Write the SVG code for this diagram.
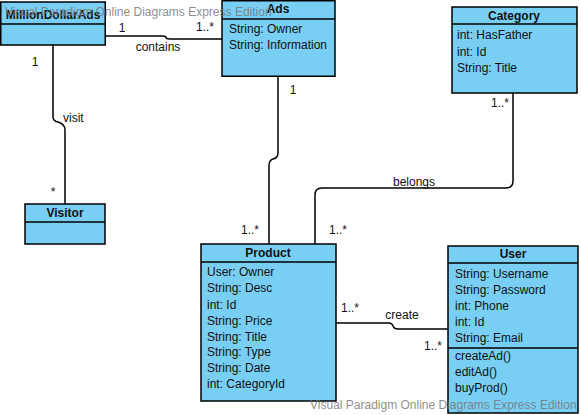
<svg xmlns="http://www.w3.org/2000/svg" width="581" height="415" viewBox="0 0 581 415">
<style>
.box{fill:#79CEF4;stroke:#000;stroke-width:1.5}
.div{stroke:#000;stroke-width:1.5}
.t{font-family:"Liberation Sans",Arial,sans-serif;font-size:12px;fill:#111}
.b{font-weight:bold;text-anchor:middle}
.m{text-anchor:middle}
.c{fill:none;stroke:#000;stroke-width:1.5}
.w{font-family:"Liberation Sans",Arial,sans-serif;font-size:12px;fill:#777;fill-opacity:0.85}
</style>
<rect width="581" height="415" fill="#fff"/>
<g id="connectors">
<path class="c" d="M105,36 H162 Q166,36 166,37.5 Q166,39 170,39 H222"/>
<path class="c" d="M53,45 V117 Q53,121 58,122 Q65,124 65,130 V204"/>
<path class="c" d="M278,76 V153 Q278,158 273,159 Q269,160 269,166 V244"/>
<path class="c" d="M513,93 V181 Q513,188 506,188 H322 Q315,188 315,195 V244"/>
<path class="c" d="M336,323 H389 Q392,323 393,326 Q394,329 398,329 H448"/>
<text class="t m" x="122" y="32">1</text>
<text class="t m" x="205" y="31">1..*</text>
<text class="t m" x="158" y="51">contains</text>
<text class="t m" x="35" y="66">1</text>
<text class="t" x="63" y="122">visit</text>
<text class="t m" x="53" y="196">*</text>
<text class="t m" x="293" y="94">1</text>
<text class="t m" x="250" y="234">1..*</text>
<text class="t m" x="500" y="107">1..*</text>
<text class="t m" x="414" y="186">belongs</text>
<text class="t m" x="338" y="234">1..*</text>
<text class="t m" x="402" y="319">create</text>
<text class="t m" x="350" y="312">1..*</text>
<text class="t m" x="433" y="350">1..*</text>
</g>
<g id="MillionDollarAds">
<rect class="box" x="0.75" y="2" width="104.5" height="43"/>
<line class="div" x1="0.75" y1="24" x2="105.25" y2="24"/>
<text class="t b" x="53" y="19">MillionDollarAds</text>
</g>
<g id="Ads">
<rect class="box" x="222" y="0.75" width="113" height="75.5"/>
<line class="div" x1="222" y1="19" x2="335" y2="19"/>
<text class="t b" x="278" y="13">Ads</text>
<text class="t" x="229" y="33">String: Owner</text>
<text class="t" x="229" y="49">String: Information</text>
</g>
<g id="Category">
<rect class="box" x="452" y="7" width="125" height="86"/>
<line class="div" x1="452" y1="24" x2="577" y2="24"/>
<text class="t b" x="514" y="20">Category</text>
<text class="t" x="457" y="39">int: HasFather</text>
<text class="t" x="457" y="56">int: Id</text>
<text class="t" x="457" y="72">String: Title</text>
</g>
<g id="Visitor">
<rect class="box" x="25" y="204" width="80" height="40"/>
<line class="div" x1="25" y1="222" x2="105" y2="222"/>
<text class="t b" x="65" y="217">Visitor</text>
</g>
<g id="Product">
<rect class="box" x="201" y="244" width="135" height="157"/>
<line class="div" x1="201" y1="262" x2="336" y2="262"/>
<text class="t b" x="268" y="257">Product</text>
<text class="t" x="207" y="276">User: Owner</text>
<text class="t" x="207" y="292">String: Desc</text>
<text class="t" x="207" y="309">int: Id</text>
<text class="t" x="207" y="325">String: Price</text>
<text class="t" x="207" y="341">String: Title</text>
<text class="t" x="207" y="356">String: Type</text>
<text class="t" x="207" y="372">String: Date</text>
<text class="t" x="207" y="388">int: CategoryId</text>
</g>
<g id="User">
<rect class="box" x="448" y="246" width="130" height="167"/>
<line class="div" x1="448" y1="263" x2="578" y2="263"/>
<line class="div" x1="448" y1="348" x2="578" y2="348"/>
<text class="t b" x="513" y="258">User</text>
<text class="t" x="455" y="278">String: Username</text>
<text class="t" x="455" y="294">String: Password</text>
<text class="t" x="455" y="310">int: Phone</text>
<text class="t" x="455" y="326">int: Id</text>
<text class="t" x="455" y="342">String: Email</text>
<text class="t" x="455" y="360">createAd()</text>
<text class="t" x="455" y="376">editAd()</text>
<text class="t" x="455" y="392">buyProd()</text>
</g>
<text class="w" x="5" y="16">Visual Paradigm Online Diagrams Express Edition</text>
<text class="w" x="310" y="409">Visual Paradigm Online Diagrams Express Edition</text>
</svg>
